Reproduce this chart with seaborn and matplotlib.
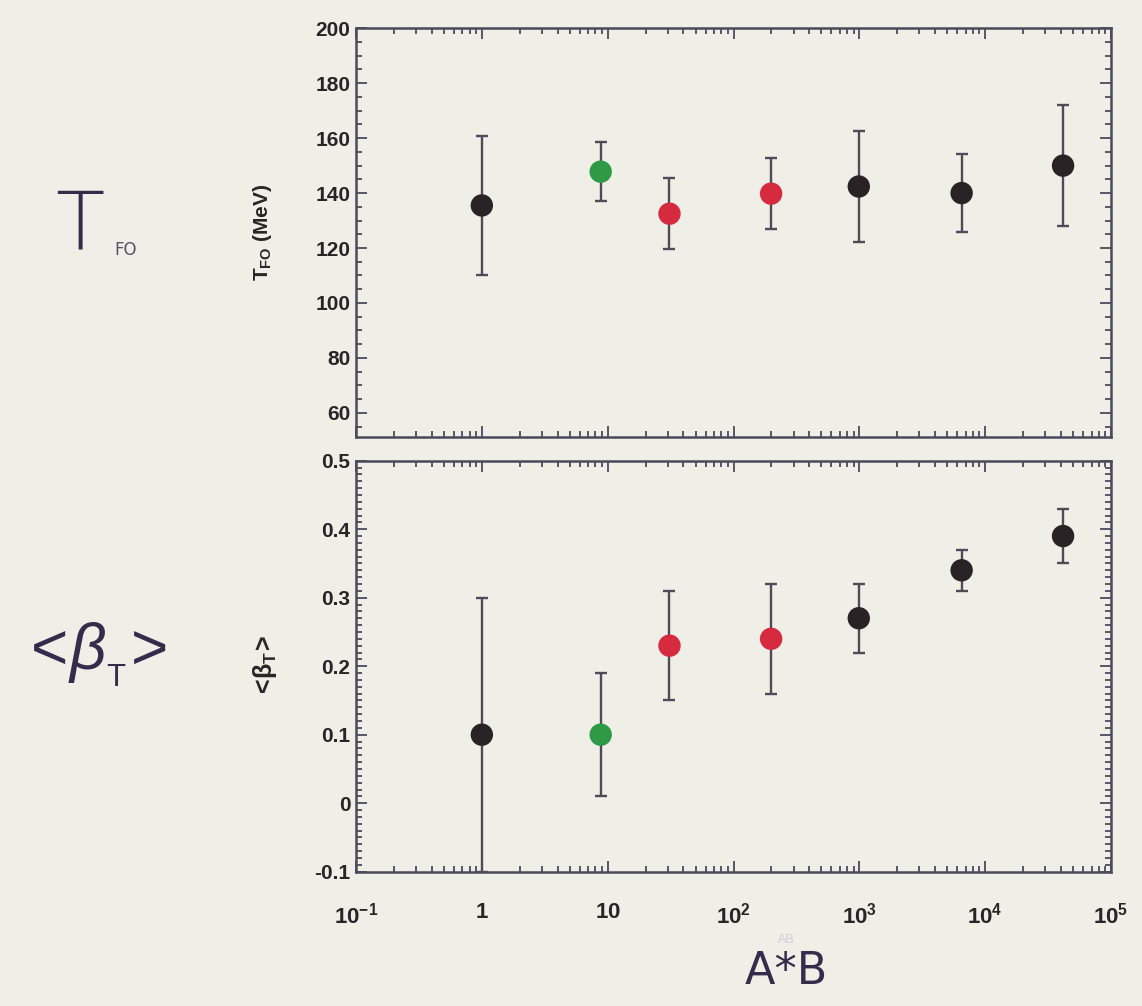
import numpy as np
import pandas as pd
import matplotlib
matplotlib.use("Agg")
import matplotlib.pyplot as plt
from matplotlib.ticker import LogLocator, MultipleLocator, FixedLocator, NullFormatter, FixedFormatter
import seaborn as sns

# ---- data -------------------------------------------------------------
system_ab = [1, 8.8, 31, 199, 990, 6500, 41600]          # A*B of colliding system
group = ["pp", "light", "mid", "mid", "heavy", "heavy", "heavy"]
t_fo = [135.5, 147.8, 132.5, 139.8, 142.4, 140.0, 150.0]  # freeze-out temperature (MeV)
t_fo_err = [25.3, 10.7, 12.9, 13.0, 20.3, 14.3, 22.0]
beta_t = [0.10, 0.10, 0.23, 0.24, 0.27, 0.34, 0.39]      # mean transverse flow velocity
beta_t_err = [0.20, 0.09, 0.08, 0.08, 0.05, 0.03, 0.04]

x_ticks = [0.1, 1, 10, 100, 1000, 1e4, 1e5]
x_tick_labels = [r"$\mathbf{10^{-1}}$", r"$\mathbf{1}$", r"$\mathbf{10}$", r"$\mathbf{10^{2}}$",
                 r"$\mathbf{10^{3}}$", r"$\mathbf{10^{4}}$", r"$\mathbf{10^{5}}$"]

palette = {"pp": "#2a2326", "light": "#2f9a45", "mid": "#d62b3f", "heavy": "#2a2326"}

df = pd.DataFrame({"ab": system_ab, "group": group, "t": t_fo, "t_err": t_fo_err,
                   "beta": beta_t, "beta_err": beta_t_err})

# ---- style ------------------------------------------------------------
sns.set_theme(style="ticks")
bg = "#efeee7"
spine_c = "#4b4b5c"
plt.rcParams["font.family"] = ["Liberation Sans", "DejaVu Sans"]
plt.rcParams["mathtext.fontset"] = "custom"
plt.rcParams["mathtext.rm"] = "Liberation Sans"
plt.rcParams["mathtext.bf"] = "Liberation Sans:bold"
plt.rcParams["mathtext.it"] = "Liberation Sans:italic"

W, H = 1142, 1006
fig = plt.figure(figsize=(W / 100, H / 100), dpi=100, facecolor=bg)

def frac(l, t, r, b):
    return [l / W, 1 - b / H, (r - l) / W, (b - t) / H]

ax_t = fig.add_axes(frac(356, 28.3, 1111, 436.7))
ax_b = fig.add_axes(frac(356, 460.7, 1111, 871.7))

def style_axis(ax):
    ax.set_facecolor(bg)
    ax.set_xscale("log")
    ax.set_xlim(0.1, 1e5)
    for s in ax.spines.values():
        s.set_color(spine_c)
        s.set_linewidth(1.8)
    ax.xaxis.set_major_locator(FixedLocator(x_ticks))
    ax.xaxis.set_minor_locator(LogLocator(base=10, subs=np.arange(2, 10), numticks=20))
    ax.xaxis.set_minor_formatter(NullFormatter())
    ax.tick_params(which="both", direction="in", top=True, right=True,
                   color=spine_c, width=1.3)
    ax.tick_params(which="major", length=8)
    ax.tick_params(which="minor", length=4)
    ax.tick_params(axis="y", which="major", labelsize=15, pad=4)

def draw_panel(ax, ycol, ecol):
    ax.errorbar(df["ab"], df[ycol], yerr=df[ecol], fmt="none", ecolor="#4d4b55",
                elinewidth=1.7, capsize=4, capthick=1.7, zorder=2)
    sns.scatterplot(data=df, x="ab", y=ycol, hue="group", palette=palette, s=260,
                    edgecolor="none", legend=False, ax=ax, zorder=3)
    ax.set_xlabel("")

style_axis(ax_t)
draw_panel(ax_t, "t", "t_err")
ax_t.set_ylim(51.3, 200)
ax_t.set_yticks([60, 80, 100, 120, 140, 160, 180, 200])
ax_t.set_yticklabels(["60", "80", "100", "120", "140", "160", "180", "200"],
                     fontweight="bold", fontsize=15)
ax_t.yaxis.set_minor_locator(MultipleLocator(5))
ax_t.tick_params(axis="x", labelbottom=False)
ax_t.set_ylabel(r"$\mathbf{T_{FO}}$ (MeV)", fontsize=15, fontweight="bold")
ax_t.yaxis.set_label_coords(-0.108, 0.50)

style_axis(ax_b)
draw_panel(ax_b, "beta", "beta_err")
ax_b.set_ylim(-0.1, 0.5)
ax_b.set_yticks([-0.1, 0, 0.1, 0.2, 0.3, 0.4, 0.5])
ax_b.set_yticklabels(["-0.1", "0", "0.1", "0.2", "0.3", "0.4", "0.5"],
                     fontweight="bold", fontsize=15)
ax_b.yaxis.set_minor_locator(MultipleLocator(0.01))
ax_b.xaxis.set_major_formatter(FixedFormatter(x_tick_labels))
ax_b.tick_params(axis="x", which="major", labelsize=16, pad=22)
ax_b.set_ylabel(r"$\mathbf{<\!\beta_T\!>}$", fontsize=18)
ax_b.yaxis.set_label_coords(-0.102, 0.50)

# ---- hand-written annotations ------------------------------------------
ink = "#352c4c"
fig.text(80 / W, 1 - 226 / H, "T", fontsize=58, color=ink, ha="center", va="center",
         family="DejaVu Sans", fontweight="light")
fig.text(126 / W, 1 - 250 / H, "FO", fontsize=12, color="#5a5268", ha="center", va="center",
         family="DejaVu Sans")
fig.text(93 / W, 1 - 655 / H, r"$<\!\beta_{_\mathrm{T}}\!>$", fontsize=46, color=ink,
         ha="center", va="center")
fig.text(786 / W, 1 - 972 / H, "A*B", fontsize=32, color=ink, ha="center", va="center",
         family="DejaVu Sans")
fig.text(786 / W, 1 - 940 / H, "AB", fontsize=9, color="#cfcfd6", ha="center", va="center")

fig.savefig("out.png", dpi=100, facecolor=bg)
